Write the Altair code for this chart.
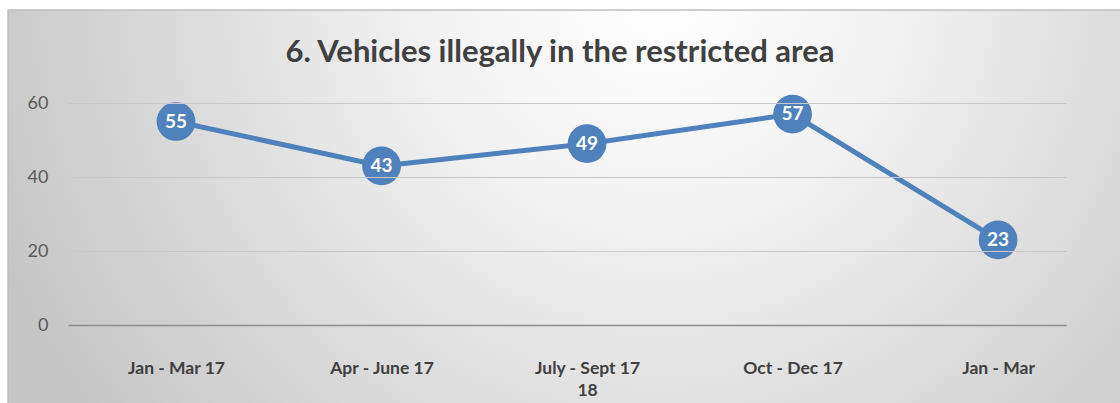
import altair as alt
import pandas as pd

periods = ["Jan - Mar 17", "Apr - June 17", "July - Sept 17", "Oct - Dec 17", "Jan - Mar"]
values = [55, 43, 49, 57, 23]
y_ticks = [0, 20, 40, 60]
title_text = "6. Vehicles illegally in the restricted area"

df = pd.DataFrame({"period": periods, "value": values})

FONT = "Lato"
BLUE = "#4f81bd"

x_enc = alt.X(
    "period:N",
    sort=periods,
    scale=alt.Scale(type="point", padding=0.428, align=0.614),
    axis=alt.Axis(
        title=None,
        labelAngle=0,
        labelFont=FONT,
        labelFontSize=17.5,
        labelFontWeight="bold",
        labelColor="#404040",
        labelPadding=34,
        labelBaseline="top",
        labelLineHeight=22,
        labelExpr="datum.value == 'July - Sept 17' ? ['July - Sept 17', '18'] : datum.value",
        ticks=False,
        domain=True,
        domainColor="#8c8c8c",
        domainWidth=1.5,
        grid=False,
        zindex=1,
    ),
)
y_enc = alt.Y(
    "value:Q",
    scale=alt.Scale(domain=[0, 60], nice=False),
    axis=alt.Axis(
        title=None,
        values=y_ticks,
        labelFont=FONT,
        labelFontSize=18,
        labelColor="#595959",
        labelPadding=20,
        ticks=False,
        domain=False,
        gridColor="#c8c8c8",
        gridWidth=1.2,
        zindex=1,
    ),
)

bg = alt.Chart(pd.DataFrame({"a": [0]})).mark_rect(
    fill=alt.Gradient(
        gradient="radial",
        stops=[
            alt.GradientStop(color="#ffffff", offset=0),
            alt.GradientStop(color="#f4f4f4", offset=0.3),
            alt.GradientStop(color="#c6c6c6", offset=1),
        ],
        x1=0.57, y1=0.3, r1=0.0,
        x2=0.57, y2=0.3, r2=0.62,
    ),
    stroke="#bfbfbf",
    strokeWidth=1.5,
    clip=False,
).encode(
    x=alt.value(-60), x2=alt.value(1080),
    y=alt.value(-93), y2=alt.value(320),
)

base = alt.Chart(df)
line = base.mark_line(color=BLUE, strokeWidth=5).encode(x=x_enc, y=y_enc)
pts = base.mark_circle(color=BLUE, opacity=1, size=1500).encode(x=x_enc, y=y_enc)
lbl = base.mark_text(
    color="white", font=FONT, fontSize=19, fontWeight="bold", baseline="middle", align="center"
).encode(x=x_enc, y=y_enc, text="value:Q")

chart = alt.layer(bg, line, pts, lbl).properties(
    width=998,
    height=222,
    autosize=alt.AutoSizeParams(type="none"),
    padding={"left": 68, "top": 103, "right": 54, "bottom": 78},
    background="white",
    title=alt.TitleParams(
        text=title_text,
        font=FONT,
        fontSize=31,
        fontWeight="bold",
        color="#404040",
        anchor="middle",
        dx=-7,
        offset=-60,
        zindex=1,
    ),
).configure_view(stroke=None)

chart.save("out.html", embed_options={"renderer": "svg", "actions": False})
